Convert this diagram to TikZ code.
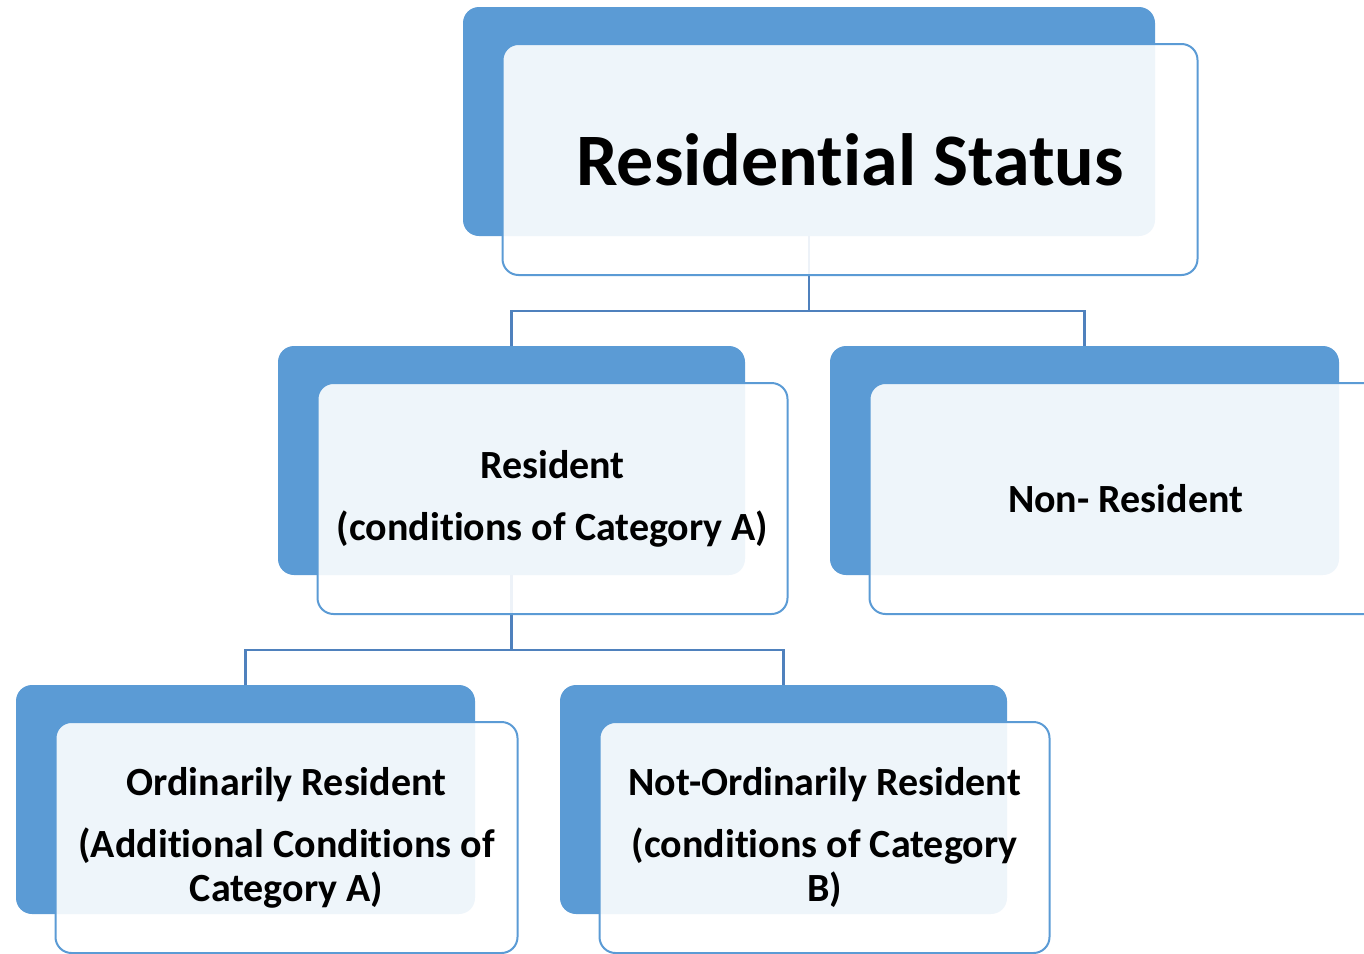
\documentclass[tikz,border=0pt]{standalone}
\usepackage{fontspec}
\setmainfont{Carlito}[Ligatures=NoCommon]
\usetikzlibrary{positioning,calc,backgrounds}
\definecolor{boxblue}{HTML}{5B9BD5}
\definecolor{linkblue}{HTML}{4F81BD}
\tikzset{
  backbox/.style={fill=boxblue,rounded corners=16pt,inner sep=0pt,minimum height=229pt},
  frontbox/.style={draw=boxblue,line width=2pt,fill=white,fill opacity=0.9,text opacity=1,
    rounded corners=16pt,inner sep=0pt,minimum height=231pt,align=center,
    font=\bfseries\fontsize{40}{44}\selectfont},
  link/.style={draw=linkblue,line width=2.5pt}
}

\begin{document}
\begin{tikzpicture}[x=1pt,y=-1pt]
  \useasboundingbox (0,0) rectangle (1364,953);

  % back boxes
  \node[backbox,minimum width=692pt] (rs-back) at (809,121.5) {};
  \node[backbox,minimum width=467pt] (res-back) at (511.5,460.5) {};
  \node[backbox,minimum width=509pt] (nr-back) at (1084.5,460.5) {};
  \node[backbox,minimum width=459pt] (or-back) at (245.5,799.5) {};
  \node[backbox,minimum width=447pt] (nor-back) at (783.5,799.5) {};

  % front boxes
  \node[frontbox,minimum width=695pt,font=\bfseries\fontsize{74}{90}\selectfont]
    (rs) at ([shift={(41,38)}]rs-back) {Residential Status};
  \node[frontbox,minimum width=470pt] (res) at ([shift={(41,38)}]res-back)
    {Resident\\[18pt](conditions of Category A)};
  \node[frontbox,minimum width=512pt] (nr) at ([shift={(41,38)}]nr-back) {Non- Resident};
  \node[frontbox,minimum width=462pt] (or) at ([shift={(41,38)}]or-back)
    {Ordinarily Resident\\[18pt](Additional Conditions of\\Category A)};
  \node[frontbox,minimum width=450pt] (nor) at ([shift={(41,38)}]nor-back)
    {Not-Ordinarily Resident\\[18pt](conditions of Category\\B)};

  % connectors
  \begin{scope}[on background layer]
    \coordinate (bar1) at ($(rs.south)!0.5!(res-back.north)$);
    \coordinate (bar2) at ($(res.south)!0.5!(or-back.north)$);
    \draw[link] (rs-back.south) -- (bar1 -| rs-back.south) -| (res-back.north);
    \draw[link] (bar1 -| rs-back.south) -| (nr-back.north);
    \draw[link] (res-back.south) -- (bar2 -| res-back.south) -| (or-back.north);
    \draw[link] (bar2 -| res-back.south) -| (nor-back.north);
  \end{scope}
\end{tikzpicture}
\end{document}
